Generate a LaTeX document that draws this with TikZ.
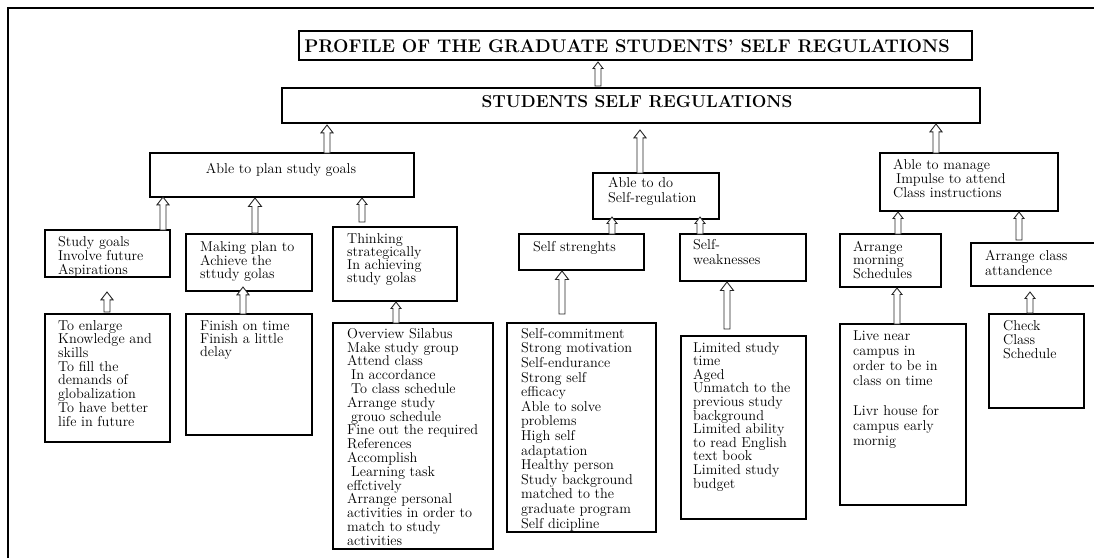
\documentclass[tikz,border=0pt]{standalone}
\usetikzlibrary{calc}
\tikzset{
  box/.style={draw, line width=1.1pt, anchor=north west, inner sep=0pt, outer sep=0pt},
  txt/.style={font=\fontsize{14.3}{#1}\selectfont, align=left, anchor=north west, inner sep=0pt},
  txt/.default=13.8,
  head/.style={font=\bfseries\fontsize{#1}{20}\selectfont, inner sep=0pt},
  head/.default=17.3,
  hollow/.style={draw=black!85, line width=0.9pt, fill=white, line join=miter},
}
% hollow block arrow, vertical at the x of #2, tip at the height of #3
\newcommand{\hollowup}[3][6]{%
  \draw[hollow] let \p1=#2, \p2=#3 in
    (\x1-3pt,\y1) -- (\x1-3pt,\y2-1.3*#1pt) -- (\x1-#1pt,\y2-1.3*#1pt) -- (\x1,\y2)
    -- (\x1+#1pt,\y2-1.3*#1pt) -- (\x1+3pt,\y2-1.3*#1pt) -- (\x1+3pt,\y1) -- cycle;}
\begin{document}
\begin{tikzpicture}[x=1pt,y=-1pt]
\useasboundingbox (0,0) rectangle (1094,558);
\draw[line width=2pt] (8,558) -- (8,8) -- (1094,8);

% top
\node[box, minimum width=673, minimum height=29] (title) at (299,31) {};
\node[head=18.3] (titlet) at (627,46) {PROFILE OF THE GRADUATE STUDENTS’ SELF REGULATIONS};
\node[box, minimum width=698, minimum height=35] (stud) at (282,88) {};
\node[head] (studt) at (637,102) {STUDENTS SELF REGULATIONS};

% second level
\node[box, minimum width=264, minimum height=44] (plan) at (150,153) {};
\node[txt, anchor=center] (plant) at (281,170) {Able to plan study goals};
\node[box, minimum width=126, minimum height=46] (sreg) at (593,173) {};
\node[txt=15] (sregt) at ([shift={(15,4)}]sreg.north west) {Able to do\\Self-regulation};
\node[box, minimum width=178, minimum height=58] (manage) at (880,153) {};
\node[txt=14] (managet) at ([shift={(13,6)}]manage.north west) {Able to manage\\\hspace*{3pt}Impulse to attend\\Class instructions};

% third level
\node[box, minimum width=125, minimum height=47] (sg) at (45,230) {};
\node[txt=14] (sgt) at ([shift={(13,6)}]sg.north west) {Study goals\\Involve future\\Aspirations};
\node[box, minimum width=126, minimum height=57] (mp) at (186,234) {};
\node[txt=13] (mpt) at ([shift={(14,7)}]mp.north west) {Making plan to\\Achieve the\\sttudy golas};
\node[box, minimum width=124, minimum height=74] (think) at (333,227) {};
\node[txt=13] (thinkt) at ([shift={(14,6)}]think.north west) {Thinking\\strategically\\In achieving\\study golas};
\node[box, minimum width=125, minimum height=36] (sstr) at (519,234) {};
\node[txt] (sstrt) at ([shift={(14,7)}]sstr.north west) {Self strenghts};
\node[box, minimum width=126, minimum height=47] (sweak) at (680,234) {};
\node[txt=15] (sweakt) at ([shift={(13,5)}]sweak.north west) {Self-\\weaknesses};
\node[box, minimum width=101, minimum height=53] (morn) at (840,234) {};
\node[txt=13.5] (mornt) at ([shift={(13,7)}]morn.north west) {Arrange\\morning\\Schedules};
\node[box, minimum width=130, minimum height=43] (attend) at (971,243) {};
\node[txt=15] (attendt) at ([shift={(14,7)}]attend.north west) {Arrange class\\attandence};

% fourth level
\node[box, minimum width=125, minimum height=128] (enl) at (45,314) {};
\node[txt=13.7] (enlt) at ([shift={(13,6)}]enl.north west) {To enlarge\\Knowledge and\\skills\\To fill the\\demands of\\globalization\\To have better\\life in future};
\node[box, minimum width=126, minimum height=121] (fin) at (186,314) {};
\node[txt=13] (fint) at ([shift={(14,6)}]fin.north west) {Finish on time\\Finish a little\\delay};
\node[box, minimum width=160, minimum height=226] (over) at (333,323) {};
\node[txt] (overt) at ([shift={(14,5)}]over.north west) {Overview Silabus\\Make study group\\Attend class\\\hspace*{4pt}In accordance\\\hspace*{4pt}To class schedule\\Arrange study\\\hspace*{4pt}grouo schedule\\Fine out the required\\References\\Accomplish\\\hspace*{4pt}Learning task\\effctively\\Arrange personal\\activities in order to\\match to study\\activities};
\node[box, minimum width=149, minimum height=209] (scom) at (507,323) {};
\node[txt=14.6] (scomt) at ([shift={(14,5)}]scom.north west) {Self-commitment\\Strong motivation\\Self-endurance\\Strong self\\efficacy\\Able to solve\\problems\\High self\\adaptation\\Healthy person\\Study background\\matched to the\\graduate program\\Self dicipline};
\node[box, minimum width=125, minimum height=183] (lim) at (681,336) {};
\node[txt=13.6] (limt) at ([shift={(12,6)}]lim.north west) {Limited study\\time\\Aged\\Unmatch to the\\previous study\\background\\Limited ability\\to read English\\text book\\Limited study\\budget};
\node[box, minimum width=126, minimum height=181] (live) at (840,324) {};
\node[txt=15] (livet) at ([shift={(13,7)}]live.north west) {Live near\\campus in\\order to be in\\class on time\\[15pt]Livr house for\\campus early\\mornig};
\node[box, minimum width=95, minimum height=94] (check) at (989,314) {};
\node[txt=14] (checkt) at ([shift={(14,6)}]check.north west) {Check\\Class\\Schedule};

% arrows
\hollowup[5]{([xshift=316pt,yshift=2pt]stud.north west)}{([yshift=-2pt]title.south)}
\hollowup{([xshift=177pt]plan.north west)}{([yshift=-2pt]stud.south)}
\hollowup{([xshift=47pt]sreg.north west)}{([yshift=-7pt]stud.south)}
\hollowup{([xshift=56pt]manage.north west)}{([yshift=-1pt]stud.south)}
\hollowup{([xshift=118pt]sg.north west)}{(plan.south)}
\hollowup[6.5]{([xshift=69pt,yshift=1pt]mp.north west)}{([yshift=-1pt]plan.south)}
\hollowup[5]{([xshift=29pt,yshift=5pt]think.north west)}{([yshift=-1pt]plan.south)}
\hollowup{([xshift=62pt,yshift=2pt]enl.north west)}{([yshift=-15pt]sg.south)}
\hollowup{([xshift=57pt]fin.north west)}{([yshift=4pt]mp.south)}
\hollowup[5]{([xshift=63pt]over.north west)}{([yshift=-1pt]think.south)}
\hollowup[5]{([xshift=93pt]sstr.north west)}{([yshift=2pt]sreg.south)}
\hollowup[5]{([xshift=20pt]sweak.north west)}{([yshift=2pt]sreg.south)}
\hollowup[6.5]{([xshift=55pt,yshift=9pt]scom.north west)}{([yshift=-1pt]sstr.south)}
\hollowup[6.5]{([xshift=46pt,yshift=7pt]lim.north west)}{([yshift=-1pt]sweak.south)}
\hollowup[5]{([xshift=58pt]morn.north west)}{([yshift=-1pt]manage.south)}
\hollowup[5]{([xshift=48pt,yshift=3pt]attend.north west)}{([yshift=-1pt]manage.south)}
\hollowup[5]{([xshift=57pt]live.north west)}{([yshift=-1pt]morn.south)}
\hollowup[5]{([xshift=41pt,yshift=1pt]check.north west)}{([yshift=-6pt]attend.south)}
\end{tikzpicture}
\end{document}
